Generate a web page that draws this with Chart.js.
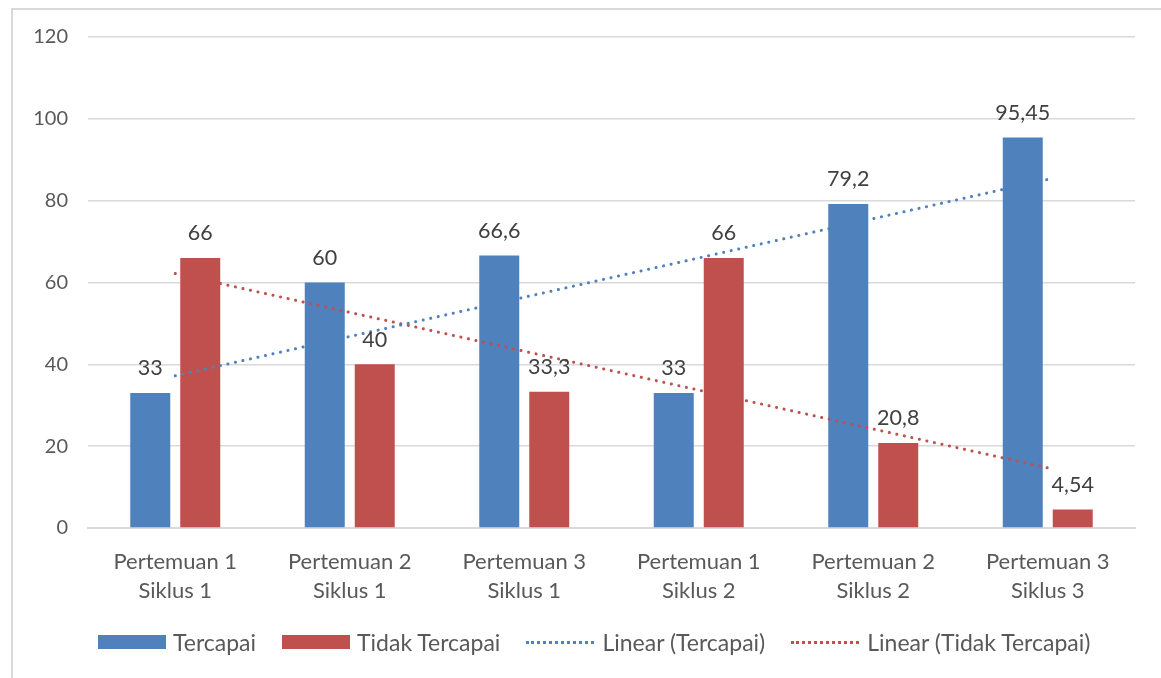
<!DOCTYPE html>
<html>
<head>
<meta charset="utf-8">
<script src="https://cdn.jsdelivr.net/npm/chart.js@4.4.1/dist/chart.umd.min.js"></script>
<style>
  html, body { margin: 0; padding: 0; background: #fff; }
  #wrap { position: relative; width: 1161px; height: 678px; overflow: hidden; }
  #frame { position: absolute; left: 11px; top: 8px; width: 1200px; height: 700px;
           border: 2px solid #d9d9d9; box-sizing: border-box; }
  #myChart { position: absolute; left: 0; top: 0; }
  #legend { position: absolute; left: 98px; top: 628px; height: 28px; display: flex; align-items: center;
            font-family: Lato, sans-serif; font-size: 23px; color: #595959; }
  .item { display: flex; align-items: center; margin-right: 26px; }
  .box { width: 68px; height: 14px; margin-right: 7px; }
  .dots { width: 68px; height: 0; border-top: 3px dotted; margin-right: 8px; }
</style>
</head>
<body>
<div id="wrap">
  <div id="frame"></div>
  <canvas id="myChart" width="1161" height="678"></canvas>
  <div id="legend"></div>
</div>
<script>
const labels = [
    [ 'Pertemuan 1', 'Siklus 1' ],
    [ 'Pertemuan 2', 'Siklus 1' ],
    [ 'Pertemuan 3', 'Siklus 1' ],
    [ 'Pertemuan 1', 'Siklus 2' ],
    [ 'Pertemuan 2', 'Siklus 2' ],
    [ 'Pertemuan 3', 'Siklus 3' ]
];
const tercapai = [ 33, 60, 66.6, 33, 79.2, 95.45 ];
const tidakTercapai = [ 66, 40, 33.3, 66, 20.8, 4.54 ];
// trend lines at each category centre
const linearTercapai = [ 37.2, 46.8, 56.4, 66.0, 75.6, 85.2 ];
const linearTidak = [ 62.2, 52.7, 43.2, 33.7, 24.2, 14.7 ];

const BLUE = '#4f81bd';
const RED = '#c0504d';
const FONT = 'Lato, sans-serif';

const ctx = document.getElementById( 'myChart' );

// value labels above the bars, comma as decimal sign
const valueLabels = {
    id: 'valueLabels',
    afterDatasetsDraw( chart )
    {
        let c = chart.ctx;
        c.save();
        c.font = '21.5px ' + FONT;
        c.fillStyle = '#404040';
        c.textAlign = 'center';
        c.textBaseline = 'bottom';
        [ 0, 1 ].forEach( ( di ) =>
        {
            let meta = chart.getDatasetMeta( di );
            meta.data.forEach( ( bar, i ) =>
            {
                let v = chart.data.datasets[ di ].data[ i ];
                c.fillText( String( v ).replace( '.', ',' ), bar.x, bar.y - 14 );
            } );
        } );
        c.restore();
    }
};

new Chart( ctx, {
    type: 'bar',
    data: {
        labels: labels,
        datasets: [ {
            label: 'Tercapai',
            data: tercapai,
            backgroundColor: BLUE,
            categoryPercentage: 0.573,
            barPercentage: 0.8,
            order: 2
        },
        {
            label: 'Tidak Tercapai',
            data: tidakTercapai,
            backgroundColor: RED,
            categoryPercentage: 0.573,
            barPercentage: 0.8,
            order: 2
        },
        {
            type: 'line',
            label: 'Linear (Tercapai)',
            data: linearTercapai,
            borderColor: BLUE,
            borderWidth: 3,
            borderDash: [ 0.1, 7.6 ],
            borderCapStyle: 'round',
            pointRadius: 0,
            fill: false,
            order: 1
        },
        {
            type: 'line',
            label: 'Linear (Tidak Tercapai)',
            data: linearTidak,
            borderColor: RED,
            borderWidth: 3,
            borderDash: [ 0.1, 7.6 ],
            borderCapStyle: 'round',
            pointRadius: 0,
            fill: false,
            order: 1
        } ]
    },
    options: {
        responsive: false,
        animation: false,
        layout: { padding: { top: 37, right: 26, bottom: 80, left: 0 } },
        scales: {
            x: {
                grid: { display: false },
                border: { color: '#d9d9d9', width: 2 },
                ticks: {
                    font: { family: FONT, size: 22, lineHeight: 1.32 },
                    color: '#595959',
                    padding: 11,
                    maxRotation: 0
                },
                afterFit: ( s ) => { s.height = 70; }
            },
            y: {
                min: 0,
                max: 120,
                ticks: {
                    stepSize: 20,
                    font: { family: FONT, size: 20 },
                    color: '#595959',
                    padding: 20
                },
                grid: { color: '#d9d9d9', lineWidth: 1.5, drawTicks: false },
                border: { display: false },
                afterFit: ( s ) => { s.width = 88; }
            }
        },
        plugins: {
            legend: { display: false },
            tooltip: { enabled: false }
        }
    },
    plugins: [ valueLabels ]
} );

// legend below the chart
let legend = document.getElementById( 'legend' );
[
    [ 'Tercapai', 'box', BLUE ],
    [ 'Tidak Tercapai', 'box', RED ],
    [ 'Linear (Tercapai)', 'dots', BLUE ],
    [ 'Linear (Tidak Tercapai)', 'dots', RED ]
].forEach( ( l ) =>
{
    let item = document.createElement( 'div' );
    item.className = 'item';
    let mark = document.createElement( 'span' );
    mark.className = l[ 1 ];
    if ( l[ 1 ] === 'box' ) mark.style.background = l[ 2 ];
    else mark.style.borderColor = l[ 2 ];
    let text = document.createElement( 'span' );
    text.textContent = l[ 0 ];
    item.appendChild( mark );
    item.appendChild( text );
    legend.appendChild( item );
} );
</script>
</body>
</html>
